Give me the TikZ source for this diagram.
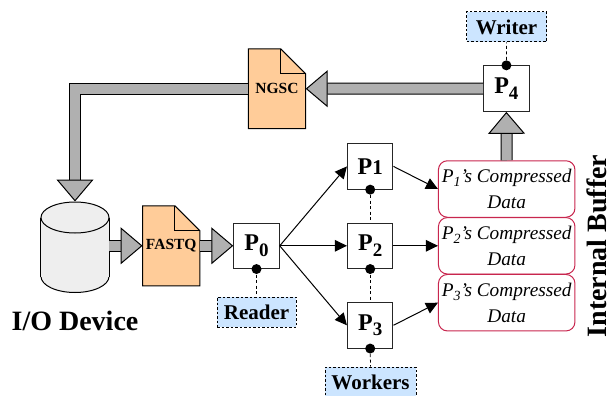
\documentclass[tikz,border=0pt]{standalone}
\usepackage{fontspec}
\setmainfont{Liberation Serif}
\usetikzlibrary{arrows.meta,backgrounds,calc}
\definecolor{fatgray}{HTML}{B0B0B0}
\definecolor{docorange}{HTML}{FFCC99}
\definecolor{tagblue}{HTML}{CCE5FF}
\definecolor{cylgray}{HTML}{EEEEEE}
\definecolor{bufred}{HTML}{C8264E}
\newcommand{\fs}[1]{\fontsize{#1}{#1}\selectfont}
\newcommand{\sbd}[1]{\raisebox{-5.5pt}{\fs{19}#1}}
\newcommand{\sbi}[1]{\raisebox{-4pt}{\fs{14}#1}}
\newcommand{\bufline}[1]{P\sbi{#1}'s Compressed\\Data}
\newcommand{\docshape}[1]{%
  \begin{scope}[on background layer]
    \draw[docline,fill=docorange]
      (#1.north west) -- ($(#1.north east)+(-25,0)$) -- ($(#1.north east)+(0,25)$)
      -- (#1.south east) -- (#1.south west) -- cycle;
    \draw[docline] ($(#1.north east)+(-25,0)$) -- ($(#1.north east)+(-25,25)$)
      -- ($(#1.north east)+(0,25)$);
  \end{scope}}
\tikzset{
  x=1pt,y=-1pt,
  procbox/.style={draw=black!85,line width=1pt,fill=white,minimum width=45.5pt,minimum height=45.5pt,inner sep=0pt,font=\bfseries\fs{24}},
  tagbox/.style={draw=black,dashed,dash pattern=on 2.5pt off 2pt,line width=1pt,fill=tagblue,inner sep=0pt,font=\bfseries\fs{21}},
  bufbox/.style={draw=bufred,line width=1pt,fill=white,rounded corners=9pt,minimum width=136.5pt,minimum height=56.5pt,inner sep=0pt,align=center,font=\fontsize{19.3}{26}\selectfont\itshape},
  docbox/.style={minimum width=57pt,minimum height=79.5pt,inner sep=0pt,font=\bfseries\fs{15.5}},
  docline/.style={draw=black,line width=1pt,line join=miter},
  dot/.style={circle,fill=black,inner sep=0pt,minimum size=10pt},
  dashline/.style={draw=black,dashed,dash pattern=on 3pt off 2.5pt,line width=.8pt},
  flow/.style={draw=black,line width=1pt,-{Triangle[length=12pt,width=11.5pt]}},
  fat/.style={draw=black,line width=1pt,double=fatgray,double distance=10pt,line join=miter,
    -{Triangle[length=22pt,width=37pt,fill=fatgray,color=black,line width=1pt]}},
  plain/.style={inner sep=0pt,font=\bfseries\fs{28}},
  cylline/.style={draw=black,line width=1pt,fill=cylgray},
}
\begin{document}
\begin{tikzpicture}
\useasboundingbox (0,0) rectangle (608,396);
% I/O device
\node[minimum width=68pt,minimum height=90.6pt,inner sep=0pt] (dev) at (75,247) {};
\draw[cylline] ($(dev.south)+(0,-16)$) ellipse [x radius=34,y radius=16];
\fill[cylgray] ($(dev.north west)+(0,16)$) rectangle ($(dev.south east)+(0,-16)$);
\draw[line width=1pt] ($(dev.north west)+(0,16)$) -- ($(dev.south west)+(0,-16)$);
\draw[line width=1pt] ($(dev.north east)+(0,16)$) -- ($(dev.south east)+(0,-16)$);
\draw[cylline] ($(dev.north)+(0,16)$) ellipse [x radius=34,y radius=15.5];
\node[plain,anchor=base] (devlabel) at (75,330) {I/O Device};
% documents
\node[docbox] (fastq) at (171.25,245.8) {FASTQ};
\node[docbox] (ngsc) at (277,88.75) {NGSC};
\docshape{fastq}
\docshape{ngsc}
% processes
\node[procbox] (p0) at (256.5,245.8) {P\sbd{0}};
\node[procbox] (p1) at (370.2,166.4) {P{\fs{21}1}};
\node[procbox] (p2) at (370.2,245.8) {P\sbd{2}};
\node[procbox] (p3) at (370.2,325.3) {P\sbd{3}};
\node[procbox] (p4) at (506.4,88.6) {P\sbd{4}};
% buffers
\node[bufbox] (b1) at (506.7,189) {\bufline{1}};
\node[bufbox] (b2) at (506.7,245.8) {\bufline{2}};
\node[bufbox] (b3) at (506.7,302.7) {\bufline{3}};
\node[plain,rotate=90,anchor=base] (ibuf) at (606,246) {Internal Buffer};
% tags
\node[tagbox,minimum width=79pt,minimum height=30pt] (reader) at (256.5,312) {Reader};
\node[tagbox,minimum width=91pt,minimum height=31pt] (workers) at (370.5,382.5) {Workers};
\node[tagbox,minimum width=80pt,minimum height=30pt] (writer) at (506.5,27) {Writer};
% dashed links
\draw[dashline] (p0.south) -- (reader.north);
\draw[dashline] (p1.south) -- (p2.north);
\draw[dashline] (p2.south) -- (p3.north);
\draw[dashline] (p3.south) -- (workers.north);
\draw[dashline] (p4.north) -- (writer.south);
\node[dot] (d0) at (p0.south) {};
\node[dot] (d1) at (p1.south) {};
\node[dot] (d2) at (p2.south) {};
\node[dot] (d3) at (p3.south) {};
\node[dot] (d4) at (p4.north) {};
% flow arrows
\draw[flow] (p0.east) -- (p1.west);
\draw[flow] (p0.east) -- (p2.west);
\draw[flow] (p0.east) -- (p3.west);
\draw[flow] (p1.east) -- (b1.west);
\draw[flow] (p2.east) -- (b2.west);
\draw[flow] (p3.east) -- (b3.west);
% fat arrows
\draw[fat] (dev.east |- fastq.west) -- (fastq.west);
\draw[fat] (fastq.east) -- (p0.west);
\draw[fat] (b1.north) -- (p4.south);
\draw[fat] (p4.west) -- (ngsc.east);
\draw[fat] (ngsc.west) -| (dev.north);
\end{tikzpicture}
\end{document}
